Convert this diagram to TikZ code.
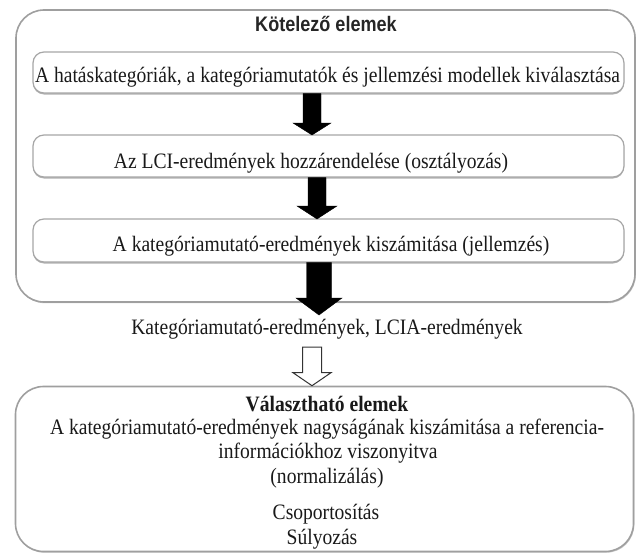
\documentclass[tikz,border=0pt]{standalone}
\usepackage{fontspec}
\setmainfont{Liberation Serif}[FakeStretch=0.89]
\newfontfamily\titlefont{Liberation Sans}[FakeStretch=0.86]
\usetikzlibrary{calc,shadows}

% filled block arrow pointing down from #2 to #3
\newcommand{\blockarrow}[6]{%
  \draw[#1] let \p1=(#2), \p2=(#3) in
    (\x1-#4,\y1) -- (\x1-#4,\y2+#6) -- (\x1-#5,\y2+#6) -- (\x1,\y2)
    -- (\x1+#5,\y2+#6) -- (\x1+#4,\y2+#6) -- (\x1+#4,\y1) -- cycle;}

\begin{document}
\begin{tikzpicture}[x=1pt,y=-1pt,
  frame/.style={draw=gray!75, fill=white, line width=1.6pt, rounded corners=28pt,
    inner sep=0pt,
    drop shadow={shadow xshift=0.8pt, shadow yshift=-1.2pt, fill=gray!45, opacity=1}},
  stepbox/.style={draw=gray!70, fill=white, line width=1.2pt, rounded corners=11pt,
    minimum width=591pt, inner sep=0pt,
    drop shadow={shadow xshift=0pt, shadow yshift=-1.5pt, fill=gray!60, opacity=1}},
  txt/.style={font=\fontsize{22}{24}\selectfont, text=black!90, inner sep=0pt, anchor=base},
]
\useasboundingbox (0,0) rectangle (638,554);
\fill[white] (0,0) rectangle (638,554);

% mandatory elements
\node[frame, minimum width=619pt, minimum height=292pt] (mand) at (325.5,156) {};
\node[font=\titlefont\bfseries\fontsize{21}{23}\selectfont, text=black!85, inner sep=0pt, anchor=base]
  (title) at (326,31) {Kötelező elemek};

\node[stepbox, minimum height=41pt] (s1) at (328.5,72.5) {};
\node[stepbox, minimum height=42pt] (s2) at (328.5,156) {};
\node[stepbox, minimum height=43pt] (s3) at (328.5,240.5) {};
\node[txt] (t1) at (327.5,82) {A hatáskategóriák, a kategóriamutatók és jellemzési modellek kiválasztása};
\node[txt] (t2) at (311,168) {Az LCI-eredmények hozzárendelése (osztályozás)};
\node[txt] (t3) at (331,251) {A kategóriamutató-eredmények kiszámitása (jellemzés)};

\coordinate (a1e) at (312,135);
\coordinate (a1s) at (s1.south -| a1e);
\coordinate (a2e) at (317,219);
\coordinate (a2s) at (s2.south -| a2e);
\coordinate (a3e) at (319,315);
\coordinate (a3s) at (s3.south -| a3e);

\blockarrow{fill=black}{a1s}{a1e}{9pt}{19pt}{12pt}
\blockarrow{fill=black}{a2s}{a2e}{9pt}{20pt}{13pt}
\blockarrow{fill=black}{a3s}{a3e}{12.5pt}{23pt}{17pt}

\node[txt] (res) at (327,334) {Kategóriamutató-eredmények, LCIA-eredmények};

% optional elements
\node[frame, minimum width=618pt, minimum height=165pt] (opt) at (324.5,469) {};

\coordinate (h1s) at (312,347);
\coordinate (h1e) at (opt.north -| h1s);
\blockarrow{draw=black!80, fill=white, line width=1pt}{h1s}{h1e}{9.5pt}{19pt}{13pt}

\node[txt, font=\bfseries\fontsize{22}{24}\selectfont] (o0) at (327,411) {Választható elemek};
\node[txt] (o1) at (327,434) {A kategóriamutató-eredmények nagyságának kiszámitása a referencia-};
\node[txt] (o2) at (328,458) {információkhoz viszonyitva};
\node[txt] (o3) at (327,483) {(normalizálás)};
\node[txt] (o4) at (326,519) {Csoportosítás};
\node[txt] (o5) at (322,544) {Súlyozás};
\end{tikzpicture}
\end{document}
